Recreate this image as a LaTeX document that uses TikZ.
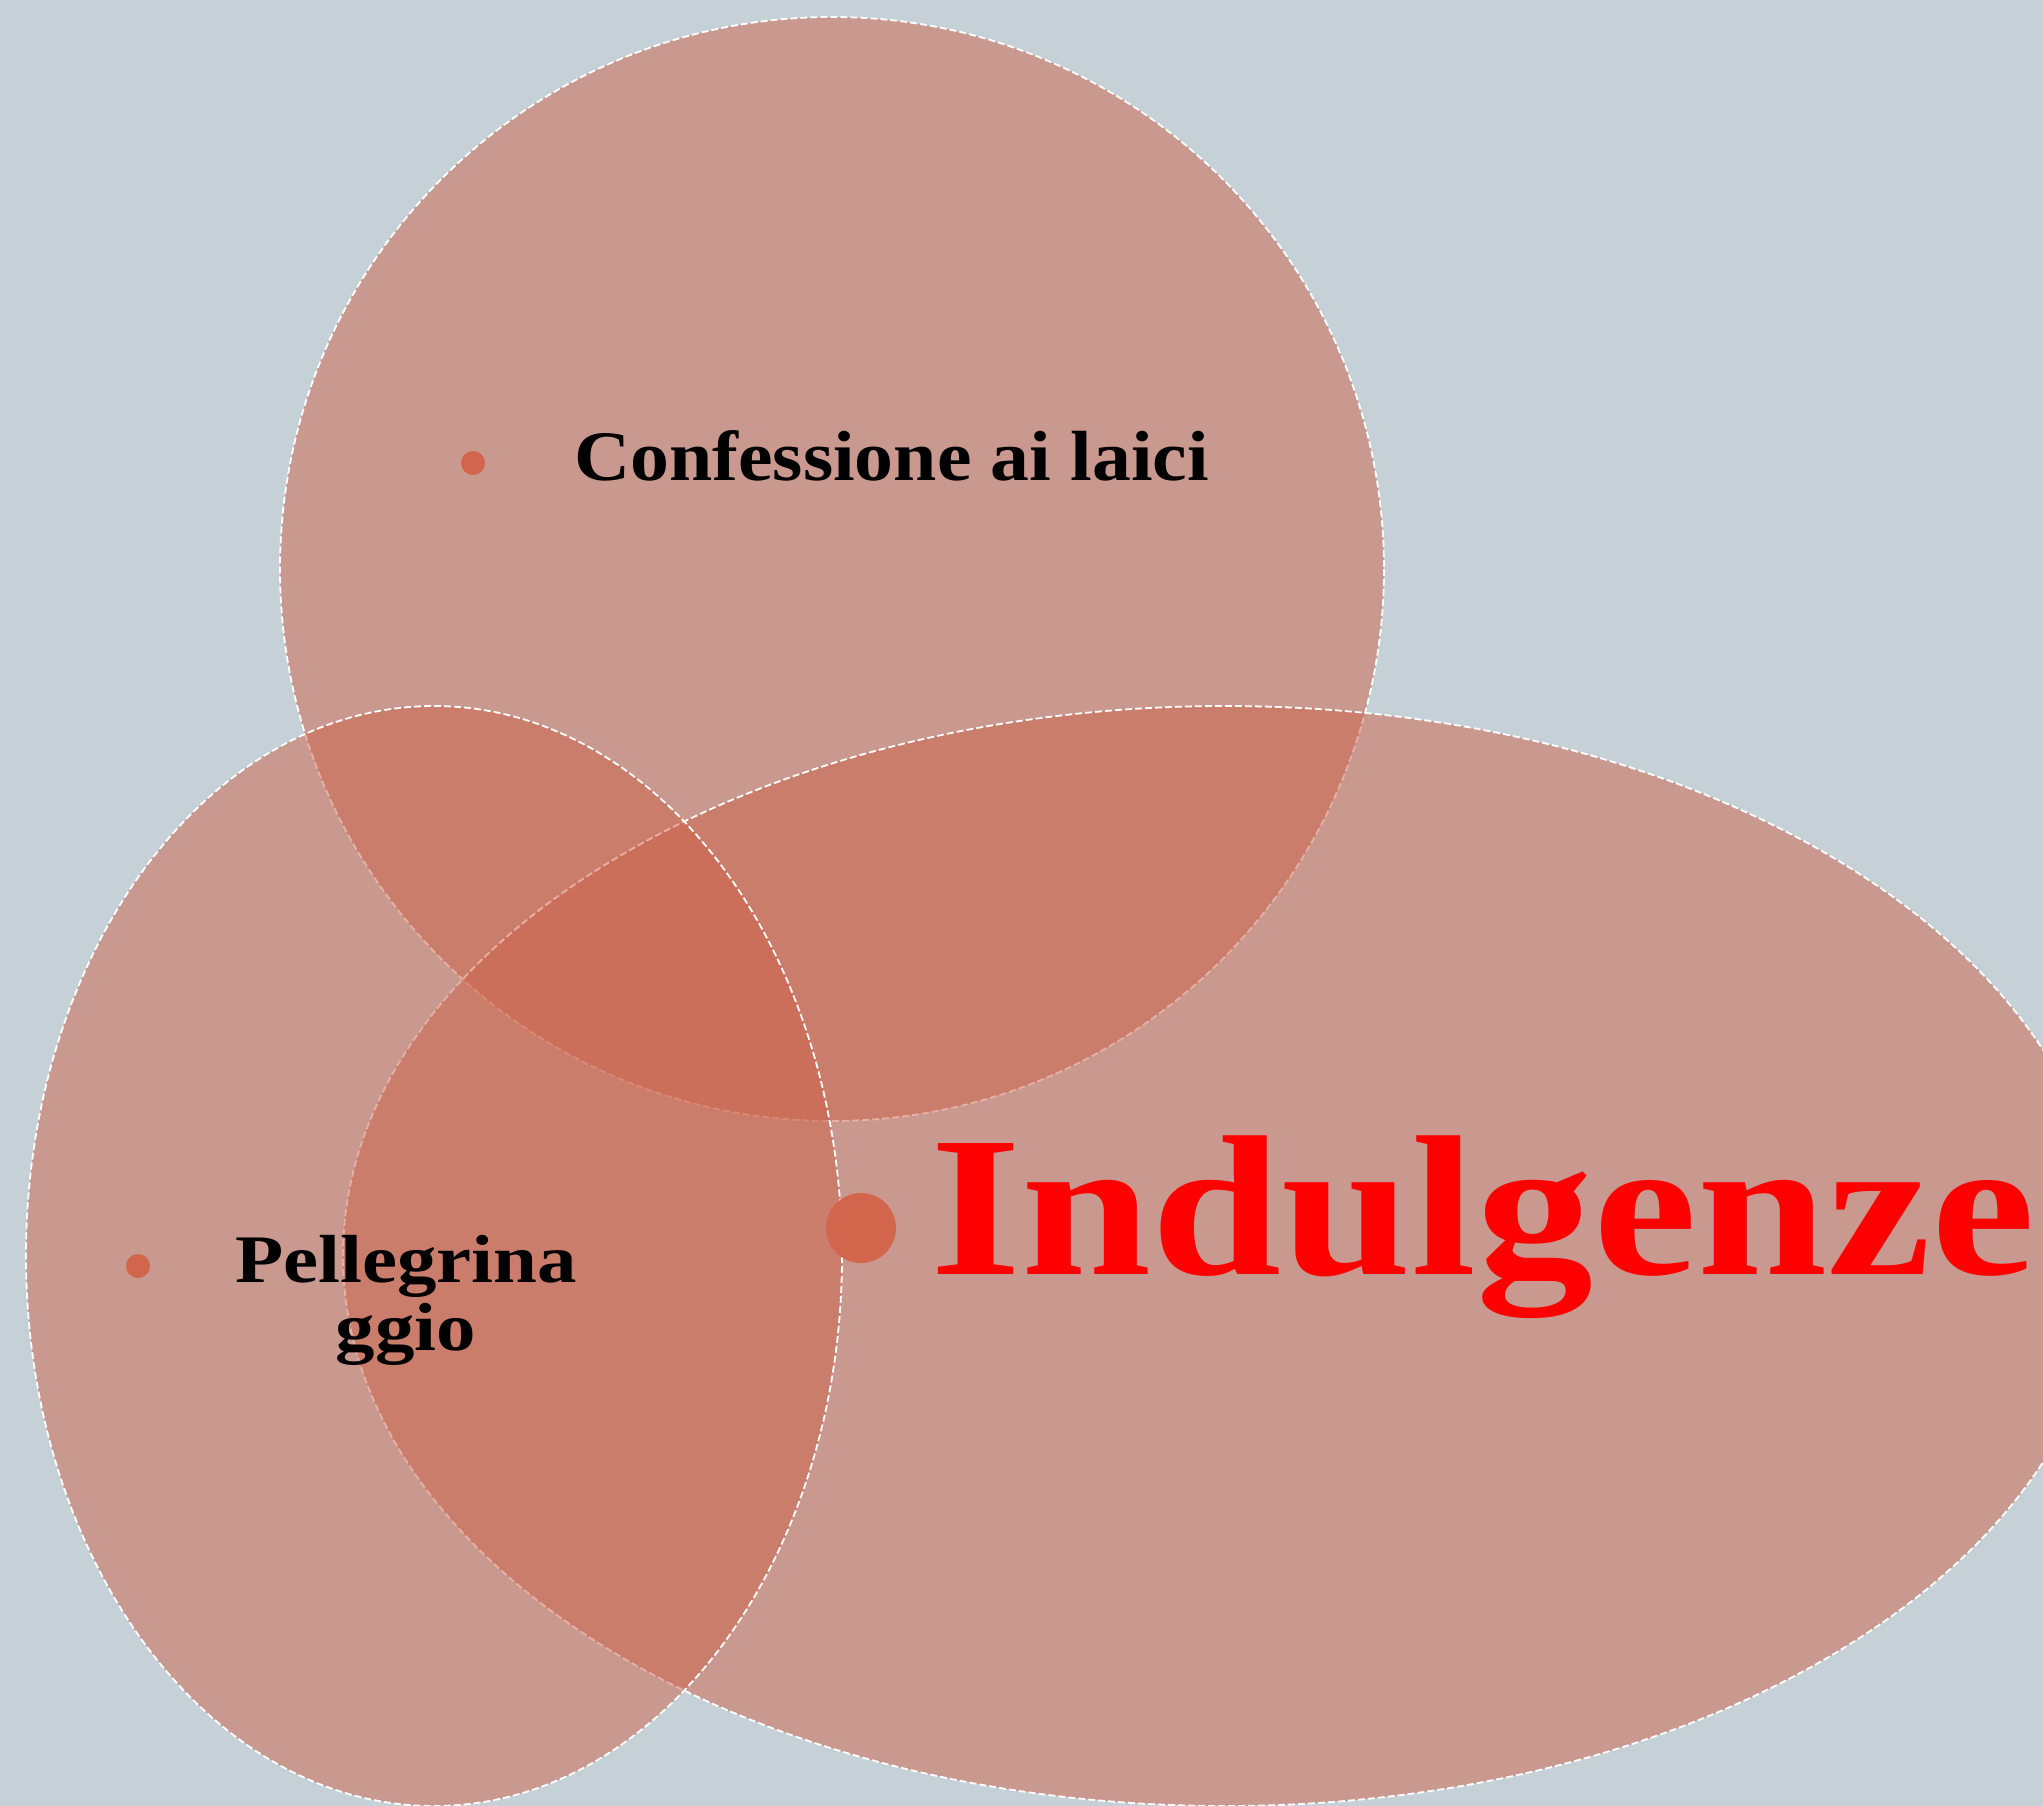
\documentclass[tikz,border=0pt]{standalone}
\usepackage{fontspec}
\setmainfont{Liberation Serif}
\newfontfamily\confont[FakeStretch=1.095]{Liberation Serif}
\newfontfamily\widefont[FakeStretch=1.16]{Liberation Serif}
\newfontfamily\bigfont[FakeStretch=1.17]{Liberation Serif}
\definecolor{bgc}{HTML}{C5D1D7}
\definecolor{fillc}{HTML}{CE634A}
\definecolor{dotc}{HTML}{D1664D}
\tikzset{
  blob/.style={fill=fillc, fill opacity=0.5, draw=white, line width=1.8pt, dash pattern=on 7pt off 3pt},
  dotmark/.style={circle, fill=dotc, inner sep=0pt, draw=none},
  lbl/.style={text=black, inner sep=0pt},
}
\begin{document}
\begin{tikzpicture}[x=1pt,y=-1pt]
\useasboundingbox (0,0) rectangle (2043,1806);
\fill[bgc] (0,0) rectangle (2043,1806);
\path[blob] (832,569) circle [radius=552];
\path[blob] (1225,1256) ellipse [x radius=882, y radius=550];
\path[blob] (434,1256) ellipse [x radius=408, y radius=550];
\node[dotmark, minimum size=24pt] (d1) at (473,463) {};
\node[dotmark, minimum size=24pt] (d2) at (138,1266) {};
\node[dotmark, minimum size=70pt] (d3) at (861,1228) {};
\node[lbl, anchor=base west, font=\confont\fontsize{71}{71}\selectfont\bfseries] (t1) at (574,480) {Confessione ai laici};
\node[lbl, anchor=base, align=center, font=\widefont\fontsize{68}{68}\selectfont\bfseries] (t2) at (406,1350) {Pellegrina\\ggio};
\node[lbl, anchor=base west, text=red, font=\bigfont\fontsize{200}{200}\selectfont\bfseries] (t3) at (930,1274) {Indulgenze};
\end{tikzpicture}
\end{document}
